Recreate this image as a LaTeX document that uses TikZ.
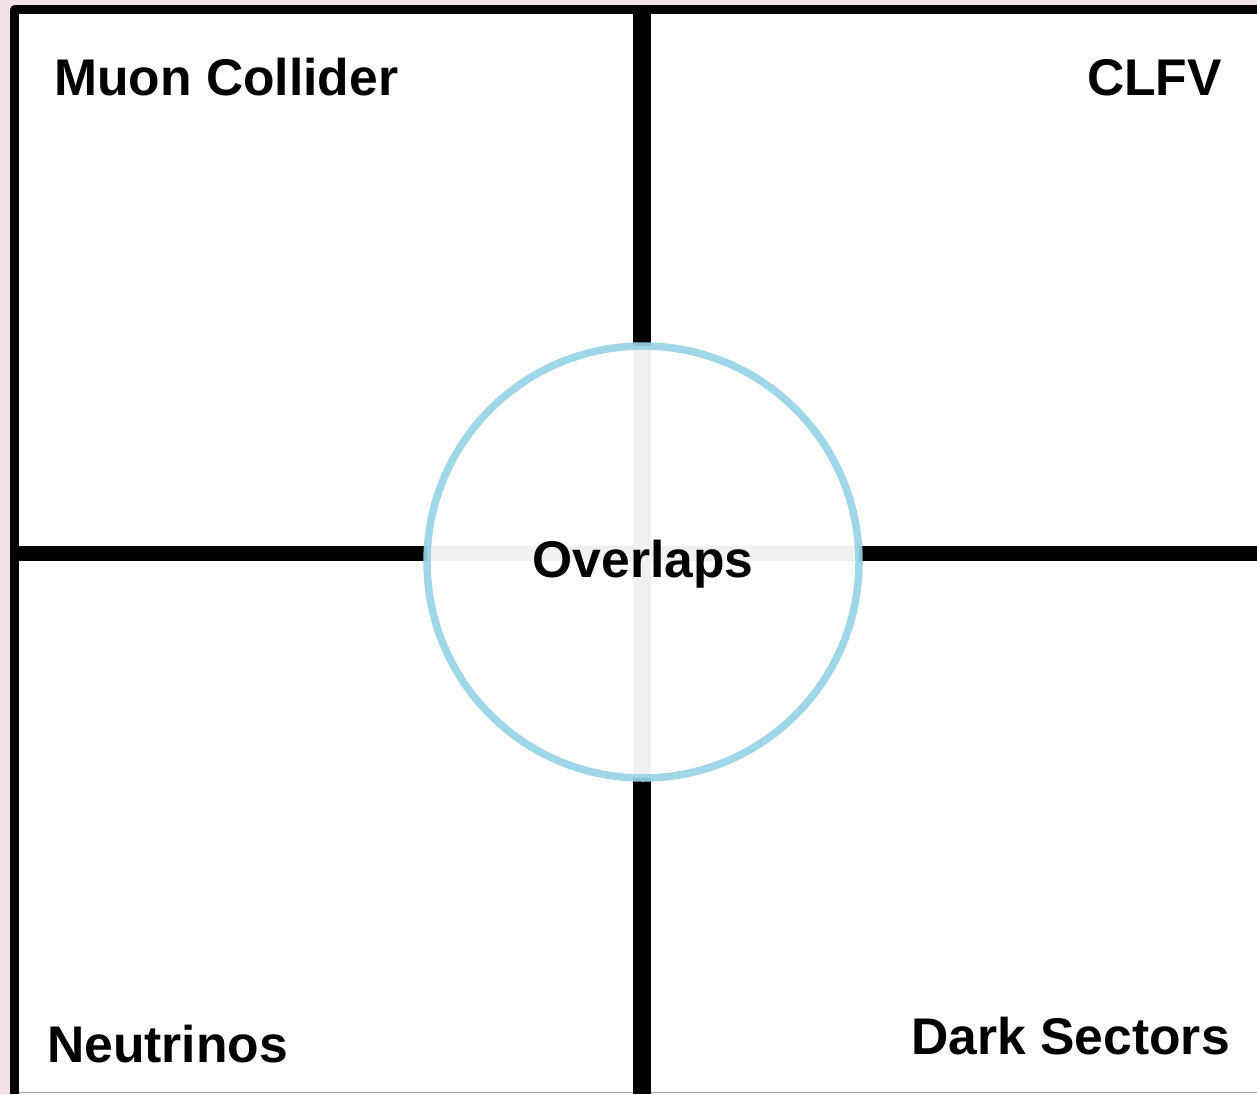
\documentclass[tikz,border=0pt]{standalone}
\usepackage{fontspec}
\setmainfont{Liberation Sans}
\definecolor{bgpink}{HTML}{F2E2E6}
\definecolor{ringblue}{HTML}{97D3E7}
\tikzset{
  label/.style={font=\fontsize{51.6}{60}\selectfont\bfseries, inner sep=0pt, text=black},
  thickline/.style={line width=#1, draw=black},
}
\begin{document}
\begin{tikzpicture}[x=1pt,y=-1pt]
\useasboundingbox (0,0) rectangle (1257,1094);
\fill[bgpink] (0,0) rectangle (1257,1094);
\fill[white] (14,10) rectangle (1257,1094);
\draw[gray!70, line width=0.8pt] (14,1092.5) -- (1257,1092.5);
% coordinates
\coordinate (tl) at (14.5,10);
\coordinate (tr) at (1257,10);
\coordinate (bl) at (14.5,1094);
\coordinate (ml) at (14.5,553.5);
\coordinate (mr) at (1257,553.5);
\coordinate (mt) at (642,10);
\coordinate (mb) at (642,1094);
% frame
\draw[thickline=9pt, line join=round] (bl) -- (tl) -- (tr);
\draw[thickline=15pt] (ml) -- (mr);
\draw[thickline=18pt] (mt) -- (mb);
% circle
\node[circle, minimum size=432pt, inner sep=0pt, fill=white, fill opacity=0.94,
      draw=ringblue, draw opacity=0.92, line width=7.5pt] (ring) at (643,562) {};
% labels
\node[label, anchor=base west] (muon) at (54,96) {Muon Collider};
\node[label, anchor=base east] (clfv) at (1222,96) {CLFV};
\node[label, anchor=base] (over) at (643,577) {Overlaps};
\node[label, anchor=base west] (neut) at (47,1062) {Neutrinos};
\node[label, anchor=base east] (dark) at (1230,1054) {Dark Sectors};
\end{tikzpicture}
\end{document}
